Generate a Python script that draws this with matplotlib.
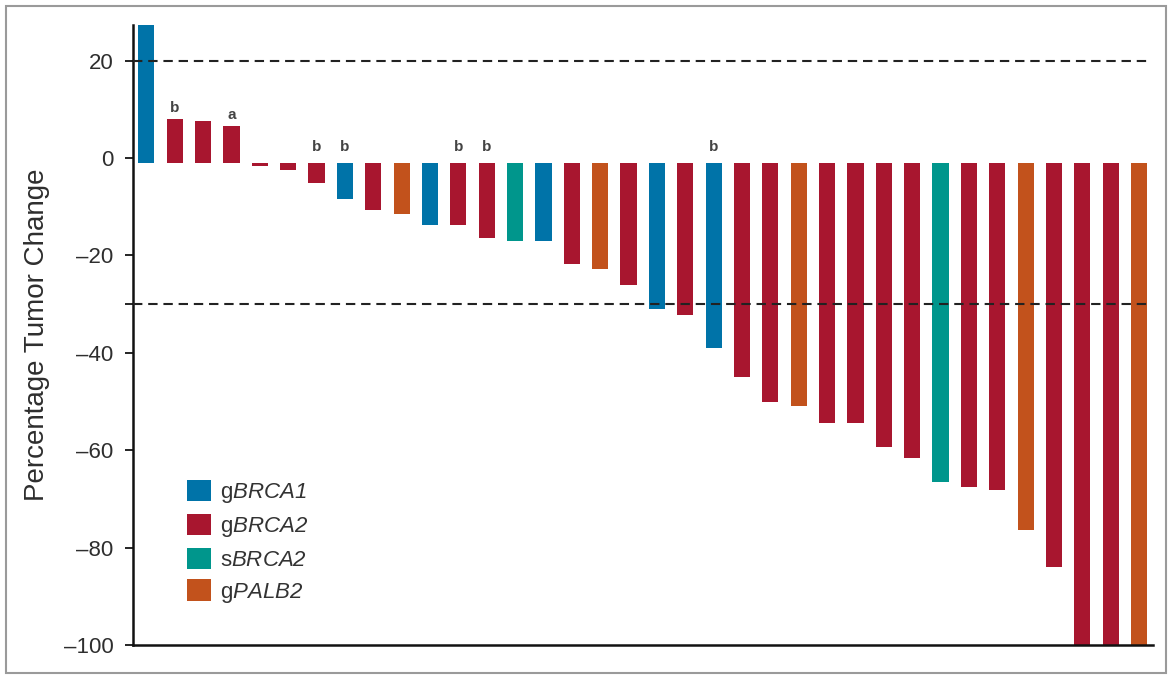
import numpy as np
import matplotlib.pyplot as plt
import matplotlib.patches as mpatches

plt.rcParams['font.family'] = ['Liberation Sans', 'DejaVu Sans']
# mathtext is only used for the gene names in the legend, which are all italic
plt.rcParams['mathtext.fontset'] = 'custom'
plt.rcParams['mathtext.rm'] = 'Liberation Sans:italic'
plt.rcParams['mathtext.it'] = 'Liberation Sans:italic'

# ---------------------------------------------------------------------------
# Best change in tumour size per patient, ordered as a waterfall
# ---------------------------------------------------------------------------
change = [30, 8.0, 7.6, 6.5, -1.6, -2.4, -5.1, -8.4, -10.6, -11.4,
          -13.7, -13.7, -16.4, -17.0, -17.0, -21.7, -22.7, -26.1, -31.0, -32.3,
          -39.0, -44.9, -50.0, -51.0, -54.5, -54.5, -59.4, -61.6, -66.5, -67.6,
          -68.2, -76.3, -84.0, -100, -100, -100]
group = ['gBRCA1', 'gBRCA2', 'gBRCA2', 'gBRCA2', 'gBRCA2', 'gBRCA2', 'gBRCA2', 'gBRCA1',
         'gBRCA2', 'gPALB2', 'gBRCA1', 'gBRCA2', 'gBRCA2', 'sBRCA2', 'gBRCA1', 'gBRCA2',
         'gPALB2', 'gBRCA2', 'gBRCA1', 'gBRCA2', 'gBRCA1', 'gBRCA2', 'gBRCA2', 'gPALB2',
         'gBRCA2', 'gBRCA2', 'gBRCA2', 'gBRCA2', 'sBRCA2', 'gBRCA2', 'gBRCA2', 'gPALB2',
         'gBRCA2', 'gBRCA2', 'gBRCA2', 'gPALB2']
footnote = ['', 'b', '', 'a', '', '', 'b', 'b', '', '', '', 'b', 'b', '', '', '',
            '', '', '', '', 'b', '', '', '', '', '', '', '', '', '', '', '', '', '', '', '']

legend_groups = ['gBRCA1', 'gBRCA2', 'sBRCA2', 'gPALB2']
legend_labels = [r'g$\mathit{BRCA1}$', r'g$\mathit{BRCA2}$',
                 r's$\mathit{BRCA2}$', r'g$\mathit{PALB2}$']
colors = {'gBRCA1': '#0073a8', 'gBRCA2': '#a8162f',
          'sBRCA2': '#00968c', 'gPALB2': '#c2521c'}

progression_cut = 20
response_cut = -30
yticks = [20, 0, -20, -40, -60, -80, -100]
baseline = -1

fig = plt.figure(figsize=(11.7, 6.75), dpi=100)
ax = fig.add_axes([0.1137, 0.0444, 0.872, 0.9185])

x = np.arange(len(change))
vals = np.array(change, dtype=float)
ax.bar(x, vals - baseline, bottom=baseline, width=0.57,
       color=[colors[g] for g in group], linewidth=0, zorder=2)

for xi, v, note in zip(x, vals, footnote):
    if note:
        ax.text(xi, max(v, 0) + 0.9, note, ha='center', va='bottom',
                fontsize=11, fontweight='bold', color='#444444')

for yref in (progression_cut, response_cut):
    ax.axhline(yref, xmin=0, xmax=0.995, color='#222222', linewidth=1.5,
               dashes=(4.5, 2.8), zorder=3)

ax.set_xlim(-0.47, len(change) - 0.5)
ax.set_ylim(-100, 27.3)
ax.set_xticks([])
ax.set_yticks(yticks)
ax.set_yticklabels([f'{t}'.replace('-', '\u2013') for t in yticks])
ax.set_yticks([response_cut], minor=True)
ax.tick_params(axis='y', which='both', length=6, width=1.2, pad=8,
               labelsize=16, labelcolor='#2e2e2e')

for side in ('top', 'right'):
    ax.spines[side].set_visible(False)
for side in ('left', 'bottom'):
    ax.spines[side].set_linewidth(1.8)
    ax.spines[side].set_color('#111111')

ax.set_ylabel('Percentage Tumor Change', fontsize=20, color='#2e2e2e', labelpad=10)

handles = [mpatches.Patch(facecolor=colors[g], edgecolor='none') for g in legend_groups]
ax.legend(handles, legend_labels, loc='lower left', bbox_to_anchor=(0.033, 0.033),
          frameon=False, fontsize=16, handlelength=1.08, handleheight=1.08,
          handletextpad=0.42, labelspacing=0.4, labelcolor='#333333')

# thin grey border round the whole figure
fig.patches.append(mpatches.Rectangle((0.005, 0.003), 0.992, 0.988, transform=fig.transFigure,
                                      fill=False, edgecolor='#9a9a9a', linewidth=1.5))

fig.savefig('out.png', dpi=100)
